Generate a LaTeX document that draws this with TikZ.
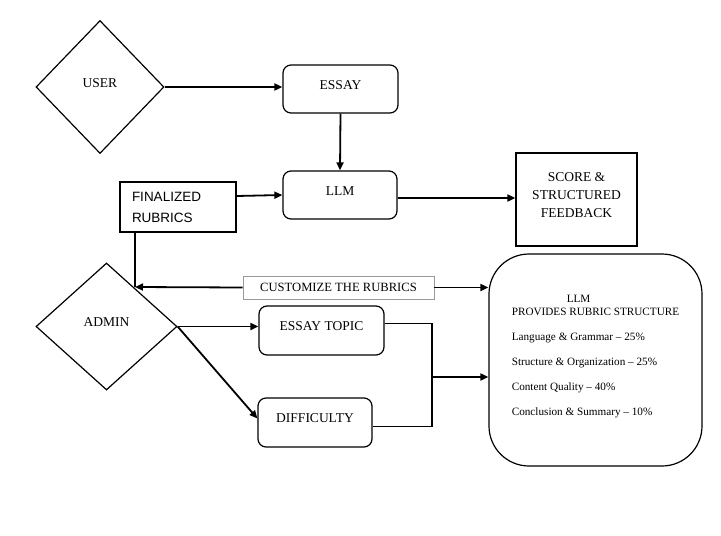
\documentclass[tikz,border=0pt]{standalone}
\usepackage{fontspec}
\setmainfont{Liberation Serif}
\newfontfamily\arialfont{Liberation Sans}
\usepackage{tikz}
\usetikzlibrary{arrows.meta,positioning,shapes.geometric}

\begin{document}
\begin{tikzpicture}[x=1pt, y=-1pt,
    roundbox/.style={draw, rounded corners=8pt, line width=1.2pt, font=\fontsize{13.5}{16}\selectfont, text height=9pt, text depth=9pt},
    squarebox/.style={draw, line width=1.2pt, font=\fontsize{13.5}{18}\selectfont, align=center},
    choice/.style={draw, diamond, line width=1.2pt, inner sep=0pt, font=\fontsize{13.5}{16}\selectfont, text height=9pt, text depth=9pt},
    arrowline/.style={-{Triangle[length=8pt,width=7pt]}, line width=1.8pt}
  ]
    \useasboundingbox (0,0) rectangle (721,536);
    \node[choice, minimum width=128pt, minimum height=133pt] (user) at (100,87) {USER};
    \node[roundbox, minimum width=115pt, minimum height=48pt] (essay) at (340.5,89) {ESSAY};
    \node[roundbox, minimum width=114pt, minimum height=48pt] (llm) at (340,195) {LLM};
    \node[squarebox, font=\arialfont\fontsize{13.5}{21}\selectfont, align=left, text width=92pt, inner xsep=12pt, minimum height=50pt] (final) at (178,207) {FINALIZED\\RUBRICS};
    \node[squarebox, minimum width=121pt, minimum height=93pt] (score) at (576.5,199.5) {SCORE \&\\STRUCTURED\\FEEDBACK\\[-9pt]\mbox{}};
    \node[choice, minimum width=141pt, minimum height=127pt] (admin) at (106.5,326.5) {ADMIN};
    \node[draw=gray!80, line width=0.8pt, minimum width=191pt, minimum height=23pt, font=\fontsize{12.6}{15}\selectfont] (cust) at (338.5,287.5) {CUSTOMIZE THE RUBRICS};
    \node[roundbox, minimum width=125pt, minimum height=49pt] (topic) at (321.5,330.5) {ESSAY TOPIC};
    \node[roundbox, minimum width=114pt, minimum height=49pt] (diff) at (315,422.5) {DIFFICULTY};
    \node[draw, rounded corners=40pt, line width=1.2pt, minimum width=213pt, minimum height=212pt, align=left, font=\fontsize{11.2}{13}\selectfont] (rubric) at (595.5,360)
      {\hspace*{55pt}LLM\\PROVIDES RUBRIC STRUCTURE\\[12pt]Language \& Grammar -- 25\%\\[12pt]Structure \& Organization -- 25\%\\[12pt]Content Quality -- 40\%\\[12pt]Conclusion \& Summary -- 10\%\\[-3pt]\mbox{}};
    \coordinate (hit) at (135,287);
    \coordinate (join) at (432,377);
    \draw[arrowline] (user.east) -- (user.east -| essay.west);
    \draw[arrowline] (essay.south) -- (llm.north);
    \draw[arrowline] ([yshift=11pt]final.east) -- (llm.west);
    \draw[arrowline] ([yshift=-3pt]llm.east) -- ([yshift=-3pt]llm.east -| score.west);
    \draw[line width=1.8pt] (hit |- final.south) -- (hit);
    \draw[arrowline] (cust.west) -- (hit);
    \draw[arrowline] (cust.east) -- (cust.east -| rubric.west);
    \draw[arrowline] (admin.east) -- (admin.east -| topic.west);
    \draw[arrowline] (admin.east) -- ([yshift=4pt]diff.west);
    \draw[line width=1.8pt] ([yshift=7pt]topic.east) -| (join);
    \draw[arrowline] ([yshift=-4pt]diff.east) -| (join) -- (join -| rubric.west);
  \end{tikzpicture}
\end{document}
